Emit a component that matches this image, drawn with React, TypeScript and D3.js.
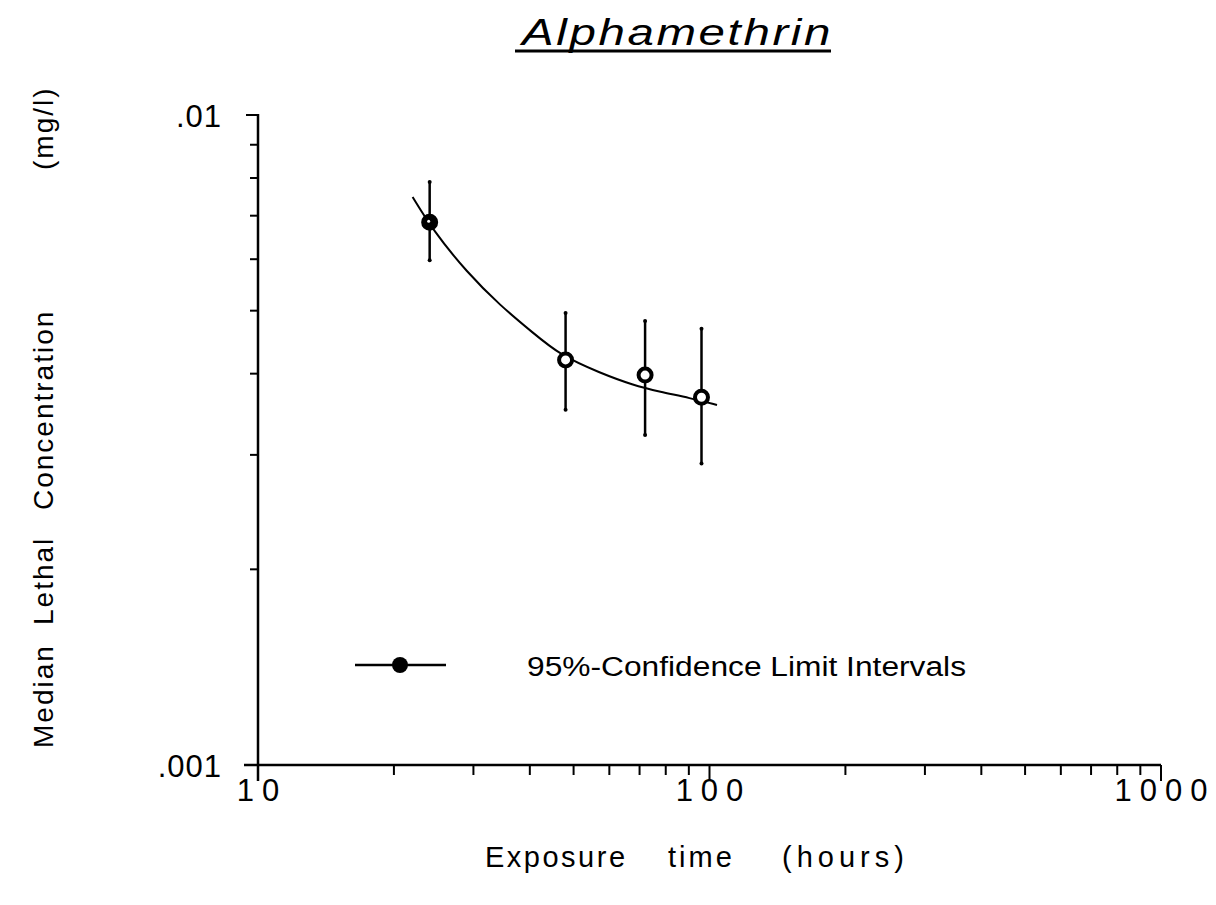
import React from "react";
import * as d3 from "d3";

const hours = [24, 48, 72, 96];
const lc50 = [0.00684, 0.0042, 0.00398, 0.00368];
const upper = [0.00789, 0.00496, 0.00482, 0.00469];
const lower = [0.00598, 0.00352, 0.00322, 0.00291];
const fitHours = [22.0, 24.4, 29.0, 34.4, 40.7, 46.7, 57.2, 67.7, 77.7, 90.5, 103.9];
const fitConc = [0.00748, 0.00665, 0.00573, 0.00509, 0.00462, 0.00427, 0.00401, 0.00384, 0.00375, 0.00367, 0.00358];
const xTickLabels = ["10", "100", "1000"];
const yTickLabels = [".001", ".01"];
const xTitleWords = ["Exposure", "time", "(hours)"];
const yTitleWords = ["Median", "Lethal", "Concentration", "(mg/l)"];

export default function App() {
  const x = d3.scaleLog().domain([10, 1000]).range([258, 1161]);
  const y = d3.scaleLog().domain([0.001, 0.01]).range([765, 115]);
  const xt = x.ticks();
  const yt = y.ticks();
  const line = d3
    .line<number>()
    .x((_, i) => x(fitHours[i]))
    .y((_, i) => y(fitConc[i]))
    .curve(d3.curveBasis);
  const font = "'Liberation Sans', Arial, Helvetica, sans-serif";
  const isMajor = (v: number) => Math.abs(Math.log10(v) - Math.round(Math.log10(v))) < 1e-6;
  const xWordStart = [485, 668, 782];
  const xWordSpacing = [2.5, 3, 5];
  const yWordStart = [748, 625, 510, 170];
  return (
    <svg width={1216} height={905} style={{ display: "block", position: "absolute", left: 0, top: 0, background: "#fff" }}>
      <rect width={1216} height={905} fill="#fff" />
      {/* title */}
      <text x={522} y={45} fontFamily={font} fontStyle="italic" fontSize={36} textLength={311} lengthAdjust="spacingAndGlyphs" letterSpacing={2} fill="#000">
        Alphamethrin
      </text>
      <line x1={515} x2={831} y1={51} y2={51} stroke="#000" strokeWidth={3} />
      {/* axes */}
      <line x1={258} x2={258} y1={114} y2={781} stroke="#000" strokeWidth={2.5} />
      <line x1={244} x2={1161} y1={765} y2={765} stroke="#000" strokeWidth={2.5} />
      {yt.map((v, i) => (
        <line key={"yt" + i} x1={258} x2={isMajor(v) ? 246 : 250} y1={y(v)} y2={y(v)} stroke="#000" strokeWidth={2} />
      ))}
      {xt.map((v, i) => (
        <line key={"xt" + i} x1={x(v)} x2={x(v)} y1={765} y2={isMajor(v) ? 781 : 775} stroke="#000" strokeWidth={2} />
      ))}
      {xTickLabels.map((t, i) => (
        <text key={"xl" + i} x={x(+t) + 4} y={801} textAnchor="middle" fontFamily={font} fontSize={31} letterSpacing={8} fill="#000">
          {t}
        </text>
      ))}
      {yTickLabels.map((t, i) => (
        <text key={"yl" + i} x={222} y={y(+("0" + t)) + 12} textAnchor="end" fontFamily={font} fontSize={31} letterSpacing={1} fill="#000">
          {t}
        </text>
      ))}
      {/* axis titles */}
      {xTitleWords.map((w, i) => (
        <text key={"xw" + i} x={xWordStart[i]} y={867} fontFamily={font} fontSize={29} letterSpacing={xWordSpacing[i]} fill="#000">
          {w}
        </text>
      ))}
      {yTitleWords.map((w, i) => (
        <text key={"yw" + i} transform={`translate(53,${yWordStart[i]}) rotate(-90)`} fontFamily={font} fontSize={28} letterSpacing={2} fill="#000">
          {w}
        </text>
      ))}
      {/* fitted curve */}
      <path d={line(fitHours) || ""} fill="none" stroke="#000" strokeWidth={2} />
      {/* error bars */}
      {hours.map((h, i) => (
        <g key={"eb" + i}>
          <line x1={x(h)} x2={x(h)} y1={y(upper[i])} y2={y(lower[i])} stroke="#000" strokeWidth={2.5} />
          <circle cx={x(h)} cy={y(upper[i])} r={2} fill="#000" />
          <circle cx={x(h)} cy={y(lower[i])} r={2} fill="#000" />
        </g>
      ))}
      {hours.map((h, i) => (
        <g key={"pt" + i}>
          <circle cx={x(h)} cy={y(lc50[i])} r={i === 0 ? 7.5 : 6.5} fill={i === 0 ? "#000" : "#fff"} stroke="#000" strokeWidth={i === 0 ? 2 : 4} />
          {i === 0 && <circle cx={x(h) - 1} cy={y(lc50[i]) - 1} r={1.5} fill="#fff" />}
        </g>
      ))}
      {/* legend */}
      <line x1={355} x2={446} y1={665} y2={665} stroke="#000" strokeWidth={2.5} />
      <circle cx={400} cy={665} r={8} fill="#000" />
      <text x={527} y={676} fontFamily={font} fontSize={27} textLength={439} lengthAdjust="spacingAndGlyphs" fill="#000">
        95%-Confidence Limit Intervals
      </text>
    </svg>
  );
}
